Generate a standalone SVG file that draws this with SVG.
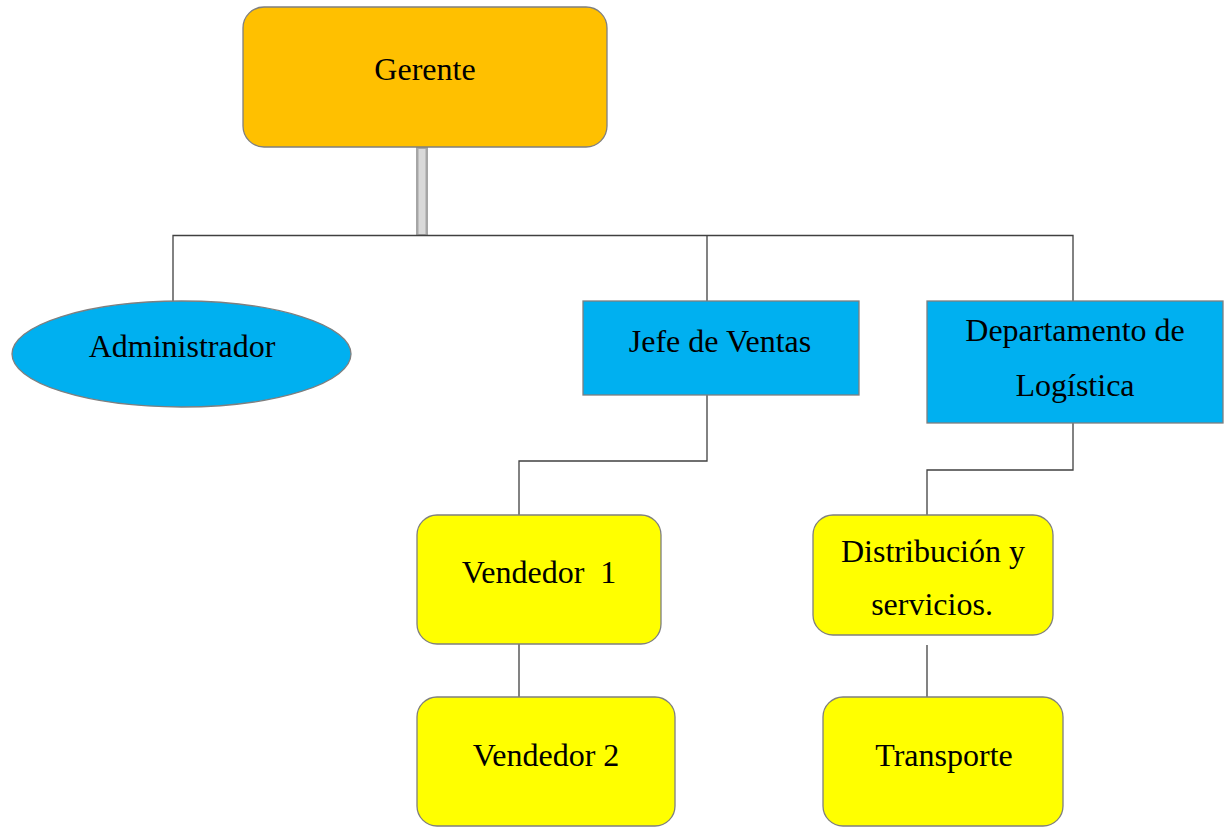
<svg xmlns="http://www.w3.org/2000/svg" width="1232" height="827" viewBox="0 0 1232 827">
  <style>
    .lbl { font-family: "Liberation Serif", "Times New Roman", serif; font-size: 32px; fill: #000; text-anchor: middle; white-space: pre; }
    .box { stroke: #7f7f7f; stroke-width: 1.3; }
    .gold { fill: #FFC000; }
    .blue { fill: #00B0F0; }
    .yellow { fill: #FFFF00; }
    .wire { fill: none; stroke: #404040; stroke-width: 1.3; }
  </style>
  <rect width="1232" height="827" fill="#fff"/>

  <g id="connectors">
    <!-- trunk from Gerente -->
    <rect x="416" y="147" width="12" height="89" fill="#A6A6A6"/>
    <rect x="418.5" y="149" width="7" height="85" fill="#D9D9D9"/>
    <polyline class="wire" points="173,301 173,235.5 1073,235.5 1073,301"/>
    <line class="wire" x1="707" y1="235.5" x2="707" y2="301"/>
    <polyline class="wire" points="707,395 707,461 519,461 519,515"/>
    <line class="wire" x1="519" y1="644" x2="519" y2="697"/>
    <polyline class="wire" points="1073,423 1073,470 927,470 927,515"/>
    <line class="wire" x1="927" y1="645" x2="927" y2="697"/>
  </g>

  <g id="gerente">
    <rect class="box gold" x="243" y="7" width="364" height="140" rx="21"/>
    <text class="lbl" x="425" y="80">Gerente</text>
  </g>

  <g id="administrador">
    <ellipse class="box blue" cx="181.5" cy="354" rx="169.5" ry="53"/>
    <text class="lbl" x="182" y="357">Administrador</text>
  </g>

  <g id="jefe-ventas">
    <rect class="box blue" x="583" y="301" width="276" height="94"/>
    <text class="lbl" x="720" y="352">Jefe de Ventas</text>
  </g>

  <g id="logistica">
    <rect class="box blue" x="927" y="301" width="296" height="122"/>
    <text class="lbl" x="1075" y="341">Departamento de</text>
    <text class="lbl" x="1075" y="396">Logística</text>
  </g>

  <g id="vendedor-1">
    <rect class="box yellow" x="417" y="515" width="244" height="129" rx="20"/>
    <text class="lbl" x="539" y="583">Vendedor  1</text>
  </g>

  <g id="vendedor-2">
    <rect class="box yellow" x="417" y="697" width="258" height="129" rx="20"/>
    <text class="lbl" x="546" y="766">Vendedor 2</text>
  </g>

  <g id="distribucion">
    <rect class="box yellow" x="813" y="515" width="240" height="120" rx="20"/>
    <text class="lbl" x="933" y="562">Distribución y</text>
    <text class="lbl" x="932" y="615">servicios.</text>
  </g>

  <g id="transporte">
    <rect class="box yellow" x="823" y="697" width="240" height="129" rx="20"/>
    <text class="lbl" x="944" y="766">Transporte</text>
  </g>
</svg>
